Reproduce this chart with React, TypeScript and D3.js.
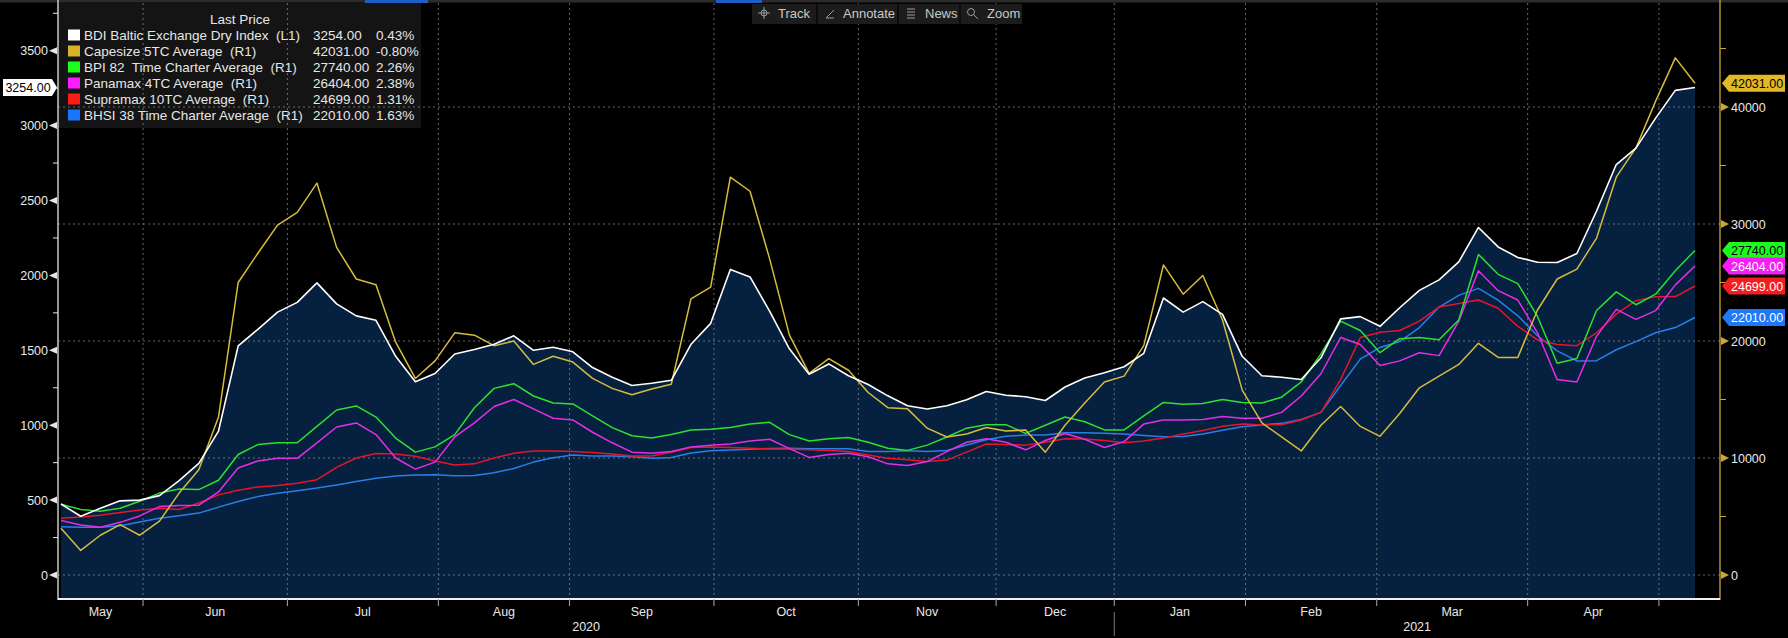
import React from 'react';
import * as d3 from 'd3';

const W = 1788;
const H = 638;

// Baltic business days shown on the x axis
const START = '2020-05-12';
const END = '2021-05-11';
const HOLIDAYS = [
  '2020-05-25', '2020-08-31', '2020-12-24', '2020-12-25', '2020-12-28', '2020-12-29',
  '2020-12-31', '2021-01-01', '2021-04-02', '2021-04-05', '2021-05-03',
];
const STEP = 3; // one reading every 3 business days

// BDI (left axis)
const bdi = [
  474, 392, 445, 495, 500, 530, 630, 745, 960, 1530,
  1640, 1755, 1820, 1950, 1810, 1730, 1700, 1460, 1290, 1345,
  1475, 1505, 1540, 1597, 1500, 1520, 1490, 1385, 1320, 1265,
  1280, 1300, 1540, 1680, 2040, 1990, 1760, 1510, 1340, 1409,
  1330, 1272, 1196, 1130, 1108, 1130, 1170, 1225, 1200, 1190,
  1165, 1255, 1315, 1350, 1390, 1480, 1849, 1755, 1825, 1740,
  1460, 1330, 1320, 1305, 1450, 1710, 1725, 1660, 1784, 1900,
  1970, 2090, 2320, 2190, 2120, 2088, 2086, 2146, 2430, 2740,
  2850, 3050, 3235, 3254,
];
// right axis series
const capesize = [
  4000, 2100, 3400, 4300, 3400, 4600, 7000, 9000, 13500, 25000,
  27500, 29900, 31000, 33500, 28000, 25300, 24800, 19900, 16800, 18300,
  20700, 20500, 19600, 20000, 18000, 18700, 18200, 16800, 15950, 15400,
  15900, 16300, 23600, 24600, 34000, 32800, 27000, 20500, 17236, 18500,
  17500, 15600, 14300, 14200, 12550, 11800, 12050, 12600, 12300, 12400,
  10500, 12800, 14700, 16500, 17000, 19600, 26500, 24000, 25600, 21800,
  15800, 13000, 11800, 10600, 12800, 14400, 12700, 11850, 13800, 16000,
  17000, 18000, 19800, 18600, 18600, 22650, 25300, 26150, 28800, 34000,
  36500, 40500, 44200, 42031,
];
const bpi82 = [
  6050, 5600, 5450, 5700, 6300, 7000, 7350, 7300, 8100, 10300,
  11150, 11300, 11300, 12700, 14100, 14450, 13500, 11700, 10500, 10950,
  12000, 14300, 15950, 16350, 15300, 14700, 14620, 13600, 12600, 11900,
  11700, 12000, 12400, 12450, 12600, 12900, 13050, 12000, 11450, 11650,
  11750, 11350, 10830, 10650, 11100, 11800, 12550, 12850, 12850, 12100,
  12800, 13500, 13100, 12400, 12400, 13600, 14750, 14600, 14650, 15000,
  14750, 14700, 15200, 16500, 18900, 21700, 20900, 19000, 20200, 20300,
  20100, 21800, 27400, 25700, 24900, 22100, 18100, 18500, 22600, 24200,
  23100, 24000, 26000, 27740,
];
const panamax = [
  4650, 4270, 4080, 4500, 5050, 5850, 5950, 5970, 7100, 9150,
  9750, 9970, 9970, 11300, 12650, 13000, 12000, 10000, 9050, 9650,
  11800, 13000, 14400, 15000, 14200, 13400, 13250, 12200, 11300, 10500,
  10400, 10550, 10950, 11100, 11200, 11450, 11600, 10800, 10050, 10300,
  10400, 10100, 9500, 9350, 9700, 10550, 11350, 11650, 11350, 10700,
  11500, 12100, 11600, 10900, 11400, 12900, 13250, 13250, 13300, 13550,
  13400, 13400, 13900, 15300, 17200, 20300, 19700, 17900, 18300, 19000,
  18750, 21700, 26000, 24300, 23500, 20700, 16700, 16500, 20400, 22700,
  21850, 22600, 24800, 26404,
];
const supramax = [
  4850, 4950, 5100, 5350, 5550, 5690, 5600, 6150, 6850, 7250,
  7530, 7650, 7850, 8150, 9200, 10000, 10380, 10350, 10150, 9750,
  9400, 9500, 10000, 10400, 10600, 10600, 10550, 10480, 10350, 10180,
  10180, 10500, 10900, 10950, 10900, 10830, 10770, 10760, 10700, 10650,
  10550, 10260, 9980, 9840, 9700, 9820, 10500, 11200, 11150, 11100,
  11350, 11650, 11620, 11500, 11300, 11450, 11700, 12060, 12350, 12720,
  12900, 12820, 12850, 13250, 13900, 16700, 20300, 20750, 20900, 21700,
  22900, 23200, 23500, 22800, 21250, 20100, 19700, 19600, 20700, 22300,
  23450, 23790, 23800, 24699,
];
const bhsi = [
  4130, 4080, 4090, 4200, 4530, 4850, 5060, 5290, 5800, 6280,
  6700, 6990, 7210, 7430, 7700, 8000, 8270, 8460, 8540, 8560,
  8480, 8500, 8740, 9100, 9650, 10030, 10250, 10170, 10170, 10110,
  9980, 10050, 10420, 10620, 10690, 10740, 10820, 10830, 10800, 10780,
  10790, 10560, 10550, 10620, 10560, 10640, 11110, 11560, 11850, 11960,
  11970, 12150, 12160, 12110, 12050, 11930, 11823, 11830, 12050, 12370,
  12680, 12830, 12960, 13300, 13900, 16200, 18450, 19450, 19950, 21150,
  22900, 23900, 24500, 23500, 22150, 20450, 19150, 18300, 18320, 19250,
  19950, 20700, 21150, 22010,
];

const LEGEND_NAMES = [
  'BDI Baltic Exchange Dry Index  (L1)',
  'Capesize 5TC Average  (R1)',
  'BPI 82  Time Charter Average  (R1)',
  'Panamax 4TC Average  (R1)',
  'Supramax 10TC Average  (R1)',
  'BHSI 38 Time Charter Average  (R1)',
];
const LAST_PRICES = [3254, 42031, 27740, 26404, 24699, 22010];
const PCT_CHANGES = ['0.43%', '-0.80%', '2.26%', '2.38%', '1.31%', '1.63%'];
const LINE_COLORS = ['#ffffff', '#d6bc3c', '#2ee02e', '#e52ee5', '#e8142c', '#2a7ee6'];
const SWATCH_COLORS = ['#ffffff', '#d8b22a', '#1aff1a', '#ff1aff', '#ff1a1a', '#1a75ff'];
const TAG_COLORS = ['#ffffff', '#e2b928', '#1cfb1c', '#f81cf8', '#f51d1d', '#1f78f5'];
const TAG_TEXT = ['#000', '#000', '#000', '#fff', '#fff', '#fff'];

const LEFT_TICKS = [0, 500, 1000, 1500, 2000, 2500, 3000, 3500];
const LEFT_MINOR = [250, 750, 1250, 1750, 2250, 2750, 3250, 3750];
const RIGHT_TICKS = [0, 10000, 20000, 30000, 40000];
const RIGHT_MINOR = [5000, 15000, 25000, 35000, 45000];
const MONTHS = ['Jan', 'Feb', 'Mar', 'Apr', 'May', 'Jun', 'Jul', 'Aug', 'Sep', 'Oct', 'Nov', 'Dec'];
const TOOLS = ['Track', 'Annotate', 'News', 'Zoom'];

const PL = 58;
const PR = 1720;
const PB = 599;
const FONT = '"Liberation Sans", Arial, sans-serif';
const GRID = '#8a8a8a';
const GOLD = '#c9a83a';

export default function App() {
  const parse = d3.utcParse('%Y-%m-%d');
  const fmt = d3.utcFormat('%Y-%m-%d');
  const hol = new Set(HOLIDAYS);
  const days = d3.utcDay
    .range(parse(START)!, d3.utcDay.offset(parse(END)!, 1))
    .filter((d) => d.getUTCDay() !== 0 && d.getUTCDay() !== 6 && !hol.has(fmt(d)));

  const x = d3.scaleLinear().domain([0, days.length - 1]).range([61, 1695]);
  const yL = d3.scaleLinear().domain([0, 3500]).range([575, 50.7]);
  const yR = d3.scaleLinear().domain([0, 40000]).range([575, 107]);
  const xi = (_: number, k: number) => x(k * STEP);

  const area = d3.area<number>().x(xi).y0(PB).y1((d) => yL(d));
  const lineL = d3.line<number>().x(xi).y((d) => yL(d));
  const lineR = d3.line<number>().x(xi).y((d) => yR(d));

  const monthStarts = d3.range(1, days.length).filter(
    (i) => days[i].getUTCMonth() !== days[i - 1].getUTCMonth()
  );
  const tickX = monthStarts.map((i) => x(i - 0.5));
  const edges = [PL, ...tickX, PR];
  const monthLabels = [days[0], ...monthStarts.map((i) => days[i])]
    .map((d, k) => ({ text: MONTHS[d.getUTCMonth()], x0: edges[k], x1: edges[k + 1] }))
    .filter((s) => s.x1 - s.x0 > 70);
  const yearStart = monthStarts.find((i) => days[i].getUTCFullYear() !== days[i - 1].getUTCFullYear())!;
  const yearX = x(yearStart - 0.5);
  const years = [
    { text: String(days[0].getUTCFullYear()), cx: (PL + yearX) / 2 },
    { text: String(days[yearStart].getUTCFullYear()), cx: (yearX + PR) / 2 },
  ];

  const rightSeries = [capesize, bpi82, panamax, supramax, bhsi];
  const drawOrder = [4, 3, 2, 1, 0];

  const toolX = [778, 843, 925, 987];

  return (
    <div style={{ position: 'absolute', left: 0, top: 0 }}>
      <svg width={W} height={H} style={{ display: 'block', background: '#000', fontFamily: FONT }}>
        <rect x={0} y={0} width={W} height={H} fill="#000" />
        {/* tab strip at the very top */}
        <rect x={0} y={0} width={W} height={2.5} fill="#2c2c2c" />
        <rect x={365} y={0} width={63} height={3} fill="#1d5fc4" />
        <rect x={716} y={0} width={46} height={3} fill="#1d5fc4" />

        {/* BDI area */}
        <path d={area(bdi) ?? ''} fill="#062040" />

        {/* legend background */}
        <rect x={PL} y={3} width={363} height={125} fill="#141414" />

        {/* grid */}
        {tickX.map((tx, k) => (
          <line key={'gv' + k} x1={tx} x2={tx} y1={3} y2={PB} stroke={GRID} strokeWidth={1} strokeDasharray="2,3" opacity={0.75} />
        ))}
        {RIGHT_TICKS.map((v) => (
          <line key={'gh' + v} x1={PL} x2={PR} y1={yR(v)} y2={yR(v)} stroke={GRID} strokeWidth={1} strokeDasharray="2,3" opacity={0.75} />
        ))}

        {/* lines */}
        {drawOrder.map((s) => (
          <path key={'l' + s} d={lineR(rightSeries[s]) ?? ''} fill="none" stroke={LINE_COLORS[s + 1]} strokeWidth={1.5} strokeLinejoin="round" />
        ))}
        <path d={lineL(bdi) ?? ''} fill="none" stroke={LINE_COLORS[0]} strokeWidth={1.6} strokeLinejoin="round" />

        {/* left axis */}
        <line x1={PL} x2={PL} y1={0} y2={PB + 1} stroke="#e6e6e6" strokeWidth={1.3} />
        {LEFT_MINOR.map((v) => (
          <line key={'lm' + v} x1={PL - 5} x2={PL} y1={yL(v)} y2={yL(v)} stroke="#e6e6e6" strokeWidth={1} />
        ))}
        {LEFT_TICKS.map((v) => (
          <g key={'lt' + v}>
            <path d={`M${PL - 9},${yL(v)} L${PL - 1},${yL(v) - 3.5} L${PL - 1},${yL(v) + 3.5} Z`} fill="#e6e6e6" />
            <text x={PL - 10} y={yL(v) + 4.5} textAnchor="end" fontSize={12.5} fill="#e8e8e8">{v}</text>
          </g>
        ))}
        {/* left value tag */}
        <path
          d={`M3,${yL(3254) - 8.5} H52 L57,${yL(3254)} L52,${yL(3254) + 8.5} H3 Z`}
          fill={TAG_COLORS[0]}
        />
        <text x={28} y={yL(3254) + 4.5} textAnchor="middle" fontSize={12.5} fill="#000">3254.00</text>

        {/* right axis */}
        <line x1={PR} x2={PR} y1={0} y2={PB + 1} stroke={GOLD} strokeWidth={1.3} />
        {RIGHT_MINOR.map((v) => (
          <line key={'rm' + v} x1={PR} x2={PR + 6} y1={yR(v)} y2={yR(v)} stroke={GOLD} strokeWidth={1} />
        ))}
        {RIGHT_TICKS.map((v) => (
          <g key={'rt' + v}>
            <path d={`M${PR + 1},${yR(v) - 4} L${PR + 9},${yR(v)} L${PR + 1},${yR(v) + 4} Z`} fill={GOLD} />
            <text x={PR + 11} y={yR(v) + 4.5} fontSize={12.5} fill="#e8e8e8">{v}</text>
          </g>
        ))}
        {LAST_PRICES.slice(1).map((v, k) => {
          const ty = yR(v);
          return (
            <g key={'tag' + k}>
              <path d={`M${PR + 2},${ty} L${PR + 9},${ty - 8.5} H1785 V${ty + 8.5} H${PR + 9} Z`} fill={TAG_COLORS[k + 1]} />
              <text x={PR + 11} y={ty + 4.5} fontSize={12.5} fill={TAG_TEXT[k + 1]}>{v.toFixed(2)}</text>
            </g>
          );
        })}

        {/* bottom axis */}
        <line x1={PL} x2={PR} y1={PB} y2={PB} stroke="#f0f0f0" strokeWidth={2} />
        {tickX.map((tx, k) => (
          <line key={'bt' + k} x1={tx} x2={tx} y1={PB} y2={PB + 7} stroke="#aaa" strokeWidth={1} />
        ))}
        {monthLabels.map((m, k) => (
          <text key={'ml' + k} x={(m.x0 + m.x1) / 2} y={615.5} textAnchor="middle" fontSize={12.5} fill="#e8e8e8">{m.text}</text>
        ))}
        <line x1={yearX} x2={yearX} y1={612} y2={636} stroke="#777" strokeWidth={1} />
        {years.map((yv) => (
          <text key={yv.text} x={yv.cx} y={630.5} textAnchor="middle" fontSize={12.5} fill="#e8e8e8">{yv.text}</text>
        ))}

        {/* legend */}
        <text x={240} y={23.5} textAnchor="middle" fontSize={13.5} fill="#e6e6e6">Last Price</text>
        {LEGEND_NAMES.map((name, k) => {
          const cy = 35 + 16 * k;
          return (
            <g key={'lg' + k}>
              <rect x={68} y={cy - 5.5} width={12} height={11} fill={SWATCH_COLORS[k]} />
              <text x={84} y={cy + 5} fontSize={13.5} fill="#e6e6e6" style={{ whiteSpace: 'pre' }}>{name}</text>
              <text x={313} y={cy + 5} fontSize={13.5} fill="#e6e6e6">{LAST_PRICES[k].toFixed(2)}</text>
              <text x={376} y={cy + 5} fontSize={13.5} fill="#e6e6e6">{PCT_CHANGES[k]}</text>
            </g>
          );
        })}

        {/* toolbar */}
        <rect x={752} y={4} width={270} height={20} fill="#1c1c1c" />
        {[817, 898, 960].map((sx) => (
          <line key={'ts' + sx} x1={sx} x2={sx} y1={4} y2={24} stroke="#0c0c0c" strokeWidth={2} />
        ))}
        <g stroke="#9a9a9a" strokeWidth={1} fill="none">
          <circle cx={764} cy={13} r={3} />
          <line x1={764} x2={764} y1={7} y2={19} />
          <line x1={758} x2={770} y1={13} y2={13} />
          <line x1={826} x2={834} y1={18} y2={10} />
          <line x1={826} x2={834} y1={18} y2={18} />
          <line x1={907} x2={915} y1={9} y2={9} />
          <line x1={907} x2={915} y1={12} y2={12} />
          <line x1={907} x2={915} y1={15} y2={15} />
          <line x1={907} x2={915} y1={18} y2={18} />
          <circle cx={971} cy={12} r={3.5} />
          <line x1={973.5} x2={978} y1={14.5} y2={19} />
        </g>
        {TOOLS.map((t, k) => (
          <text key={t} x={toolX[k]} y={17.5} fontSize={13} fill="#c8c8c8">{t}</text>
        ))}
      </svg>
    </div>
  );
}
